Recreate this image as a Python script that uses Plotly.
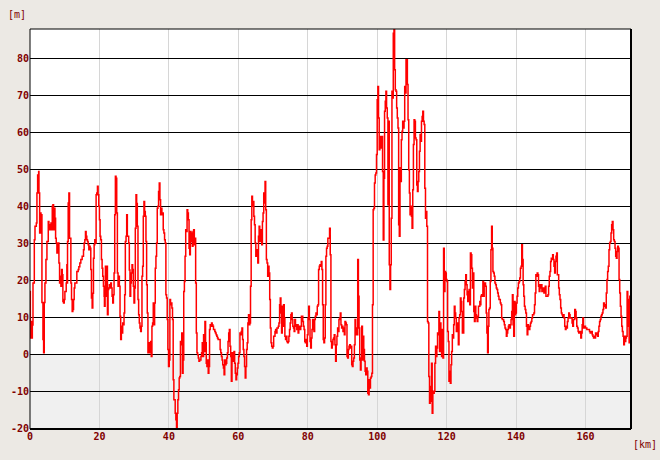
import plotly.graph_objects as go

# ---- elevation profile data (km, m) ----
km_a = [0.0, 0.1, 0.3, 0.5, 0.67, 0.86, 1.24, 1.44, 1.82, 2.0,
        2.2, 2.49, 2.58, 2.78, 2.97, 3.16, 3.35, 3.44, 3.73, 3.92,
        4.11, 4.3, 4.59, 4.88, 5.26, 5.45, 5.65, 5.84, 6.03, 6.22,
        6.41, 6.6, 6.79, 6.99, 7.18, 7.37, 7.56, 7.75, 8.13, 8.33,
        8.52, 8.71, 8.9, 9.09, 9.28, 9.47, 9.67, 9.86, 10.05, 10.43,
        10.62, 10.72, 10.81, 11.0, 11.2, 11.39, 11.58, 11.77, 11.96, 12.15,
        12.34, 12.54, 12.73, 12.92, 13.49, 13.88, 14.07, 14.35, 14.64, 15.02,
        15.41, 15.6, 15.79, 15.98, 16.17, 16.36, 16.56, 16.75, 16.94, 17.13,
        17.32, 17.51, 17.7, 17.9, 18.09, 18.28, 18.47, 18.66, 18.85, 19.04,
        19.23, 19.43, 19.62, 19.81, 20.0, 20.19, 20.38, 20.57, 20.77, 20.96,
        21.15, 21.34, 21.44, 21.63, 21.72, 21.91, 22.11, 22.3, 22.49, 22.68,
        22.87, 23.06, 23.25, 23.44, 23.64, 23.83, 24.02, 24.21, 24.4, 24.59,
        24.78, 24.98, 25.17, 25.36, 25.55, 25.74, 25.93, 26.12, 26.32, 26.51,
        26.7, 26.89, 27.08, 27.27, 27.46, 27.66, 27.85, 28.04, 28.23, 28.42,
        28.61, 28.8, 29.0, 29.19, 29.38, 29.57, 29.76, 29.95, 30.14, 30.33,
        30.53, 30.72, 30.91, 31.1, 31.29, 31.48, 31.67, 31.87, 32.06, 32.25,
        32.44, 32.63, 32.82, 33.01, 33.21, 33.4, 33.59, 33.78, 33.97, 34.16,
        34.35, 34.55, 34.74, 34.93, 35.12, 35.31, 35.5, 35.69, 35.89, 36.08,
        36.27, 36.46, 36.65, 36.84, 37.03, 37.23, 37.42, 37.61, 37.8, 37.99,
        38.18, 38.37, 38.56, 38.76, 38.95, 39.14, 39.33, 39.52, 39.71, 39.9,
        40.1, 40.29, 40.48, 40.67, 40.86, 41.05, 41.24, 41.44, 41.63, 41.82,
        42.01, 42.2, 42.39, 42.58, 42.78, 42.97]
m_a = [17.1, 4.5, 9.0, 4.5, 8.0, 19.4, 31.1, 34.7, 35.6, 43.7,
       48.6, 49.5, 43.7, 32.9, 38.3, 32.9, 37.8, 14.1, 4.1, 0.5,
       14.1, 19.4, 25.7, 30.6, 36.0, 33.8, 35.1, 33.8, 35.6, 33.8,
       40.1, 40.5, 33.8, 39.6, 36.9, 31.5, 30.2, 27.5, 30.2, 24.8,
       19.4, 21.2, 18.5, 23.0, 21.6, 14.4, 14.0, 14.9, 17.1, 19.4,
       24.3, 19.4, 30.6, 41.0, 43.7, 31.5, 31.5, 19.4, 14.9, 11.7,
       12.2, 14.9, 18.0, 19.4, 22.5, 23.0, 23.8, 24.8, 25.7, 26.6,
       28.4, 30.2, 31.1, 33.3, 32.0, 31.1, 30.6, 29.7, 28.4, 29.3,
       28.8, 23.0, 15.3, 12.6, 16.6, 26.1, 29.7, 31.1, 30.2, 43.2,
       43.7, 45.5, 43.2, 40.1, 36.5, 32.0, 31.1, 25.7, 23.4, 21.2,
       18.5, 15.8, 13.1, 17.6, 23.9, 15.8, 23.9, 10.8, 17.6, 18.0,
       18.9, 18.0, 19.4, 18.0, 15.8, 14.0, 16.2, 22.1, 37.8, 48.2,
       47.7, 38.3, 22.1, 18.5, 21.2, 18.5, 10.4, 4.1, 7.7, 5.9,
       8.6, 8.1, 11.3, 16.2, 30.6, 32.0, 37.8, 32.0, 32.0, 30.2,
       22.9, 15.8, 19.4, 22.1, 24.3, 23.0, 18.5, 14.0, 18.0, 34.2,
       43.2, 40.9, 34.7, 14.9, 10.8, 8.6, 7.2, 6.3, 7.7, 21.2,
       23.9, 37.4, 41.4, 38.7, 37.4, 30.6, 18.9, 11.3, 0.5, 2.3,
       3.2, 0.5, 3.6, -0.5, 7.7, 8.6, 14.0, 8.1, 14.0, 23.4,
       26.6, 30.2, 39.6, 40.1, 44.1, 46.4, 41.9, 37.8, 39.6, 37.8,
       38.3, 33.8, 32.9, 31.1, 30.2, 16.2, 15.3, 9.5, 1.4, -3.2,
       -1.4, 14.9, 13.5, 14.0, 12.6, 9.5, -6.8, -12.2, -12.2, -15.8,
       -17.6, -19.8, -15.8, -12.2, -9.5, -6.3]

km_b = [43.14, 43.33, 43.52, 43.71, 43.9, 44.09, 44.28, 44.47, 44.66, 44.85,
        45.04, 45.24, 45.43, 45.62, 45.81, 46.0, 46.19, 46.38, 46.57, 46.76,
        46.95, 47.14, 47.33, 47.52, 47.71, 47.9, 48.09, 48.28, 48.47, 48.66,
        48.85, 49.04, 49.23, 49.42, 49.61, 49.8, 49.99, 50.19, 50.38, 50.57,
        50.76, 50.95, 51.14, 51.33, 51.52, 51.71, 51.9, 52.09, 52.28, 52.47,
        52.66, 52.85, 53.04, 53.23, 53.42, 53.61, 53.8, 53.99, 54.18, 54.56,
        54.76, 54.95, 55.14, 55.33, 55.52, 55.71, 55.9, 56.09, 56.28, 56.47,
        56.66, 56.85, 57.04, 57.23, 57.42, 57.61, 57.8, 57.99, 58.18, 58.37,
        58.56, 58.75, 58.94, 59.13, 59.32, 59.52, 59.71, 59.9, 60.09, 60.28,
        60.47, 60.66, 60.85, 61.04, 61.23, 61.42, 61.61, 61.8, 61.99, 62.18,
        62.37, 62.56, 62.75, 62.94, 63.13, 63.32, 63.51, 63.7, 63.89, 64.08,
        64.28, 64.47, 64.66, 64.85, 65.04, 65.23, 65.42, 65.61, 65.8, 65.99,
        66.18, 66.37, 66.56, 66.75, 66.94, 67.13, 67.32, 67.51, 67.7, 67.89,
        68.08, 68.27, 68.46, 68.65, 68.84, 69.04, 69.23, 69.42, 69.61, 69.8,
        69.99, 70.18, 70.37, 70.56, 70.75, 70.94, 71.13, 71.32, 71.51, 71.7,
        71.89, 72.08, 72.27, 72.46, 72.65, 72.84, 73.03, 73.22, 73.41, 73.6,
        73.8, 73.99, 74.18, 74.37, 74.56, 74.75, 74.94, 75.13, 75.32, 75.51,
        75.7, 75.89, 76.08, 76.27, 76.46, 76.65, 76.84, 77.03, 77.22, 77.41,
        77.6, 77.79, 77.98, 78.17, 78.36, 78.56, 78.75, 78.94, 79.13, 79.32,
        79.51, 79.7, 79.89, 80.08, 80.27, 80.46, 80.65, 80.84, 81.03, 81.22,
        81.41, 81.6, 81.79, 81.98, 82.17, 82.36, 82.55, 82.74, 82.93, 83.12,
        83.32, 83.51, 83.7, 83.89, 84.08, 84.27, 84.46, 84.65, 84.84, 85.03,
        85.22, 85.41, 85.6, 85.79]
m_b = [-5.9, 3.6, 2.7, 5.9, -5.0, -1.4, 17.1, 19.8, 26.6, 33.8,
       33.3, 39.2, 38.3, 36.5, 28.8, 27.0, 33.3, 30.6, 32.9, 29.3,
       33.3, 33.8, 29.7, 31.5, 19.4, 5.9, 0.5, 0.0, -0.9, -1.8,
       -1.4, -1.4, -0.5, 0.5, 3.2, -0.5, 5.4, 0.9, 9.0, 3.2,
       -2.3, -3.2, -1.4, -5.0, -3.2, 6.8, 8.1, 7.7, 8.6, 8.1,
       7.7, 6.8, 6.8, 6.3, 5.9, 5.4, 5.0, 4.5, 4.1, 4.1,
       1.4, 0.5, -0.5, -1.4, -2.7, -3.6, -5.4, -1.4, -2.7, -2.3,
       -0.9, 0.5, 3.6, 5.9, 6.8, 2.3, -0.5, -7.2, 0.5, -1.4,
       -1.8, 0.9, -2.3, -5.0, -6.8, -5.4, -3.6, -2.3, -0.5, 0.5,
       5.9, 5.4, 6.3, 7.2, 4.1, 1.4, -0.5, -3.2, -6.3, -3.2,
       1.4, 3.2, 8.6, 10.8, 8.1, 8.6, 18.5, 36.5, 42.8, 40.1,
       41.4, 37.4, 35.1, 30.2, 26.6, 28.4, 27.9, 24.8, 32.0, 34.7,
       30.6, 33.8, 30.6, 29.7, 36.0, 38.3, 43.7, 41.0, 46.8, 39.2,
       25.7, 24.8, 21.2, 23.9, 22.1, 14.9, 7.2, 3.2, 2.3, 1.8,
       2.3, 5.0, 5.0, 6.3, 6.8, 5.9, 7.2, 7.2, 7.7, 8.6,
       13.5, 15.3, 11.3, 5.9, 13.1, 7.7, 13.5, 9.9, 5.0, 4.1,
       5.0, 3.6, 3.2, 3.6, 5.0, 6.8, 8.6, 10.8, 11.3, 9.5,
       7.7, 7.2, 6.3, 9.5, 8.1, 7.7, 6.8, 8.1, 5.9, 6.8,
       7.7, 6.8, 7.7, 10.4, 10.4, 9.0, 7.7, 6.8, 3.6, 3.2,
       4.1, 2.3, 5.4, 9.9, 13.1, 9.5, 3.6, 1.8, 4.5, 6.8,
       9.5, 8.6, 6.3, 9.5, 10.4, 11.3, 10.8, 13.1, 13.5, 23.0,
       23.9, 24.3, 23.9, 25.2, 23.0, 13.5, 4.1, 3.2, 4.5, 13.5,
       26.6, 28.8, 29.3, 31.5]

km_c = [86.09, 86.28, 86.47, 86.67, 86.86, 87.05, 87.25, 87.44, 87.63, 87.83,
        88.02, 88.21, 88.4, 88.6, 88.79, 88.98, 89.18, 89.37, 89.56, 89.76,
        89.95, 90.14, 90.34, 90.53, 90.72, 90.92, 91.11, 91.3, 91.5, 91.69,
        91.88, 92.08, 92.27, 92.46, 92.66, 92.85, 93.04, 93.23, 93.43, 93.62,
        93.81, 94.01, 94.2, 94.39, 94.59, 94.78, 94.97, 95.17, 95.36, 95.55,
        95.75, 95.94, 96.13, 96.33, 96.52, 96.71, 96.91, 97.1, 97.29, 97.49,
        97.68, 97.87, 98.06, 98.26, 98.45, 98.64, 98.84, 99.03, 99.22, 99.42,
        99.61, 99.8, 100.0, 100.19, 100.38, 100.58, 100.77, 100.96, 101.16, 101.35,
        101.54, 101.74, 101.93, 102.12, 102.32, 102.51, 102.7, 102.9, 103.09, 103.28,
        103.47, 103.67, 103.86, 104.05, 104.25, 104.44, 104.63, 104.83, 105.02, 105.21,
        105.41, 105.6, 105.79, 105.99, 106.18, 106.37, 106.57, 106.76, 106.95, 107.15,
        107.34, 107.53, 107.73, 107.92, 108.11, 108.3, 108.5, 108.69, 108.88, 109.08,
        109.27, 109.46, 109.66, 109.85, 110.04, 110.24, 110.43, 110.62, 110.82, 111.01,
        111.2, 111.4, 111.59, 111.78, 111.98, 112.17, 112.36, 112.55, 112.75, 112.94,
        113.13, 113.33, 113.52, 113.71, 113.91, 114.1, 114.29, 114.49, 114.68, 114.87,
        115.07, 115.26, 115.45, 115.65, 115.84, 116.03, 116.23, 116.42, 116.61, 116.81,
        117.0, 117.19, 117.38, 117.58, 117.77, 117.96, 118.16, 118.35, 118.54, 118.74,
        118.93, 119.12, 119.32, 119.51, 119.7, 119.9, 120.09, 120.28, 120.48, 120.67,
        120.86, 121.06, 121.25, 121.44, 121.64, 121.83, 122.02, 122.21, 122.41, 122.6,
        122.79, 122.99, 123.18, 123.37, 123.57, 123.76, 123.96, 124.15, 124.34, 124.53,
        124.73, 124.92, 125.11, 125.31, 125.5, 125.69, 125.89, 126.08, 126.27, 126.47,
        126.66, 126.85, 127.05, 127.24, 127.43, 127.63, 127.82, 128.01, 128.21, 128.4,
        128.59, 128.79, 128.98, 129.17, 129.37, 129.56]
m_c = [31.5, 34.2, 27.0, 3.6, 1.8, 2.7, 4.1, 4.5, 5.4, 2.7,
       -1.8, 2.7, 5.0, 7.2, 6.3, 9.5, 9.9, 11.3, 8.1, 7.2,
       7.7, 6.3, 7.2, 5.4, 9.0, 8.6, 8.1, -0.5, -0.9, 1.4,
       2.3, 2.7, 1.8, 2.3, -2.7, -3.2, -1.8, -0.9, 2.7, 9.5,
       5.4, 7.2, 5.4, 25.7, 15.8, 7.2, -1.4, -4.1, -0.9, 7.7,
       -1.4, 5.0, 1.4, -1.8, -4.5, -5.4, -3.6, -4.5, -10.4, -10.8,
       -6.8, -9.0, -6.3, -5.9, -5.0, 13.5, 39.2, 39.6, 46.4, 48.6,
       49.1, 54.1, 68.9, 72.5, 64.0, 55.4, 57.7, 59.0, 55.9, 59.0,
       49.5, 31.0, 47.7, 65.8, 68.5, 71.2, 66.7, 64.0, 40.5, 63.1,
       24.3, 17.6, 24.3, 36.9, 71.2, 69.4, 86.9, 87.8, 77.0, 71.6,
       71.2, 66.7, 64.0, 61.3, 35.1, 32.0, 50.5, 46.8, 58.1, 60.4,
       63.1, 61.3, 63.1, 72.5, 70.7, 79.7, 79.7, 73.0, 63.5, 50.0,
       43.7, 37.8, 40.1, 37.4, 34.2, 44.6, 56.8, 63.5, 63.1, 58.6,
       58.1, 45.9, 44.1, 46.8, 49.5, 55.0, 59.5, 57.7, 63.1, 64.4,
       65.8, 63.1, 62.2, 45.0, 36.9, 38.7, 34.7, 9.0, 8.6, -5.9,
       -13.1, -8.6, -12.6, -2.3, -15.8, -9.9, -10.4, -9.9, -2.3, 2.3,
       -0.5, 1.8, 5.9, 5.4, 11.7, 0.9, 8.6, 6.8, -0.5, 6.8,
       -0.9, 28.8, 17.1, 22.5, 22.1, 20.3, 19.8, 6.3, 3.6, -7.2,
       -4.5, -7.7, -2.7, 0.9, 5.4, 4.5, 8.1, 13.1, 11.3, 9.9,
       6.3, 7.2, 8.6, 2.7, 9.9, 10.8, 15.3, 14.4, 11.7, 5.9,
       5.9, 15.3, 17.6, 19.8, 21.6, 18.9, 16.2, 14.4, 17.1, 17.6,
       13.5, 27.5, 27.0, 23.4, 18.0, 22.1, 11.7, 9.0, 13.1, 10.8,
       9.9, 9.0, 10.4, 13.1, 13.1, 14.4]

km_d = [129.66, 129.86, 130.05, 130.24, 130.44, 130.63, 130.82, 131.02, 131.21, 131.4,
        131.59, 131.79, 131.98, 132.17, 132.37, 132.56, 132.75, 132.95, 133.14, 133.33,
        133.53, 133.72, 133.91, 134.11, 134.3, 134.49, 134.69, 134.88, 135.07, 135.27,
        135.46, 135.65, 135.85, 136.04, 136.23, 136.42, 136.62, 136.81, 137.0, 137.2,
        137.39, 137.58, 137.78, 137.97, 138.16, 138.36, 138.55, 138.74, 138.94, 139.13,
        139.32, 139.52, 139.71, 139.9, 140.09, 140.29, 140.48, 140.67, 140.87, 141.06,
        141.25, 141.45, 141.64, 141.83, 142.03, 142.22, 142.41, 142.61, 142.8, 142.99,
        143.19, 143.38, 143.57, 143.77, 143.96, 144.15, 144.35, 144.54, 144.73, 144.93,
        145.12, 145.31, 145.5, 145.7, 145.89, 146.08, 146.28, 146.47, 146.66, 146.86,
        147.05, 147.24, 147.44, 147.63, 147.82, 148.02, 148.21, 148.4, 148.6, 148.79,
        148.98, 149.18, 149.37, 149.56, 149.76, 149.95, 150.14, 150.33, 150.53, 150.72,
        150.91, 151.11, 151.3, 151.49, 151.69, 151.88, 152.07, 152.27, 152.46, 152.65,
        152.85, 153.04, 153.23, 153.43, 153.62, 153.81, 154.01, 154.2, 154.39, 154.59,
        154.78, 154.97, 155.17, 155.36, 155.55, 155.74, 155.94, 156.13, 156.32, 156.52,
        156.71, 156.9, 157.1, 157.29, 157.48, 157.68, 157.87, 158.06, 158.26, 158.45,
        158.64, 158.84, 159.03, 159.22, 159.42, 159.61, 159.8, 160.0, 160.19, 160.38,
        160.57, 160.77, 160.96, 161.15, 161.35, 161.54, 161.73, 161.93, 162.12, 162.31,
        162.51, 162.7, 162.89, 163.09, 163.28, 163.47, 163.67, 163.86, 164.05, 164.25,
        164.44, 164.63, 164.82, 165.02, 165.21, 165.4, 165.6, 165.79, 165.98, 166.18,
        166.37, 166.56, 166.76, 166.95, 167.15, 167.34, 167.53, 167.72, 167.92, 168.11,
        168.3, 168.5, 168.69, 168.88, 169.08, 169.27, 169.46, 169.66, 169.85, 170.04,
        170.24, 170.43, 170.62, 170.82, 171.01, 171.2, 171.4, 171.59, 171.78, 171.98,
        172.17, 172.36, 172.56, 172.75, 172.94, 173.14]
m_d = [13.5, 15.8, 16.2, 15.8, 19.8, 15.8, 18.9, 19.4, 18.5, 11.3,
       5.9, 0.5, 7.7, 12.2, 12.6, 19.8, 28.4, 34.7, 28.8, 22.5,
       22.1, 21.2, 19.4, 18.9, 18.0, 17.6, 16.7, 15.8, 14.9, 14.9,
       14.0, 13.5, 9.9, 9.5, 9.5, 9.0, 8.1, 7.2, 6.8, 5.0,
       5.9, 6.8, 7.7, 8.1, 7.2, 8.1, 9.5, 11.7, 16.2, 8.1,
       5.0, 14.4, 10.8, 11.3, 14.0, 15.8, 18.0, 19.4, 19.8, 20.7,
       23.4, 23.9, 29.7, 25.7, 18.9, 15.8, 13.1, 12.2, 11.3, 7.7,
       5.4, 8.1, 7.2, 6.8, 7.7, 8.6, 9.0, 9.9, 10.8, 10.8,
       11.3, 13.5, 16.7, 21.6, 21.2, 22.1, 21.6, 18.5, 17.1, 18.9,
       18.0, 18.9, 17.1, 18.0, 18.0, 16.7, 18.0, 18.5, 15.8, 15.8,
       15.8, 16.2, 18.5, 21.2, 22.5, 25.2, 26.1, 25.7, 27.0, 25.7,
       23.9, 22.1, 25.2, 26.6, 27.5, 21.6, 21.6, 18.0, 16.2, 14.9,
       12.6, 11.3, 10.8, 10.4, 10.8, 9.9, 7.7, 6.8, 7.7, 7.2,
       9.0, 9.9, 11.3, 10.8, 9.9, 9.9, 9.9, 8.6, 7.7, 9.5,
       9.5, 12.2, 11.7, 9.9, 7.7, 7.2, 6.3, 5.9, 5.9, 6.3,
       4.5, 5.9, 8.1, 9.9, 7.2, 7.2, 7.7, 7.2, 7.2, 6.8,
       6.8, 6.8, 6.8, 6.3, 5.9, 6.3, 6.3, 5.4, 5.0, 4.5,
       5.0, 4.5, 5.9, 5.9, 5.4, 5.0, 6.3, 7.7, 9.0, 9.5,
       10.4, 10.8, 11.3, 12.2, 14.0, 13.1, 13.5, 12.6, 16.7, 20.3,
       22.5, 23.9, 28.4, 30.2, 30.6, 32.9, 35.1, 36.0, 33.8, 31.1,
       30.6, 28.8, 26.6, 26.1, 27.9, 29.3, 28.8, 20.3, 16.7, 13.1,
       10.4, 7.7, 6.3, 5.0, 2.7, 5.0, 3.6, 4.5, 5.0, 17.1,
       14.9, 7.7, 3.2, 15.8, 6.3, 6.8]

x_ticks = [0, 20, 40, 60, 80, 100, 120, 140, 160]
y_ticks = [-20, -10, 0, 10, 20, 30, 40, 50, 60, 70, 80]
y_tick_labels = ["-20", "-10", "0", "10", "20", "30", "40", "50", "60", "70", "80"]

for a, b, n in [(km_a, m_a, "a"), (km_b, m_b, "b"), (km_c, m_c, "c"), (km_d, m_d, "d")]:
    if len(a) != len(b):
        raise ValueError(f"segment {n}: {len(a)} vs {len(b)}")

km = km_a + km_b + km_c + km_d
elev = m_a + m_b + m_c + m_d

LABEL = "#800000"
FONT = "DejaVu Sans Mono"
PAGE_BG = "#ece9e4"

fig = go.Figure()
fig.add_trace(go.Scatter(x=km, y=elev, mode="lines",
                         line=dict(color="#ff0000", width=1.5, shape="hv"),
                         hoverinfo="skip"))

# grey band below sea level
fig.add_shape(type="rect", xref="paper", yref="y", x0=0, x1=1, y0=-20.1, y1=0,
              fillcolor="#f0f0f0", line_width=0, layer="below")
# frame
fig.add_shape(type="line", xref="paper", yref="paper", x0=0, x1=0, y0=0, y1=1,
              line=dict(color="black", width=1))
fig.add_shape(type="line", xref="paper", yref="paper", x0=0, x1=1, y0=1, y1=1,
              line=dict(color="black", width=1))
fig.add_shape(type="line", xref="paper", yref="paper", x0=0, x1=1, y0=0, y1=0,
              line=dict(color="black", width=2))
fig.add_shape(type="line", xref="paper", yref="paper", x0=1, x1=1, y0=0, y1=1,
              line=dict(color="black", width=2))

fig.update_layout(
    width=660, height=460,
    margin=dict(l=30, r=29, t=29, b=31),
    paper_bgcolor=PAGE_BG,
    plot_bgcolor="#ffffff",
    showlegend=False,
    hovermode=False,
    xaxis=dict(range=[0, 173.1], tickvals=x_ticks, ticktext=[str(v) for v in x_ticks],
               showgrid=True, gridcolor="#d6d6d6", gridwidth=1, zeroline=False,
               showline=False, ticks="",
               tickfont=dict(family=FONT, size=10, color=LABEL, weight="bold")),
    yaxis=dict(range=[-20.08, 88.03], tickvals=y_ticks, ticktext=y_tick_labels,
               showgrid=True, gridcolor="#000000", gridwidth=1, zeroline=True,
               zerolinecolor="#000000", zerolinewidth=1, showline=False, ticks="",
               tickfont=dict(family=FONT, size=10, color=LABEL, weight="bold")),
    annotations=[
        dict(text="[m]", xref="paper", yref="paper", x=-0.021, y=1.036,
             showarrow=False, font=dict(family=FONT, size=10, color=LABEL),
             xanchor="center", yanchor="middle"),
        dict(text="[km]", xref="paper", yref="paper", x=1.024, y=-0.038,
             showarrow=False, font=dict(family=FONT, size=10, color=LABEL),
             xanchor="center", yanchor="middle"),
    ],
)

fig.write_html(
    "out.html",
    config={"displayModeBar": False},
    post_script=f"document.body.style.margin='0';document.body.style.background='{PAGE_BG}';",
)
